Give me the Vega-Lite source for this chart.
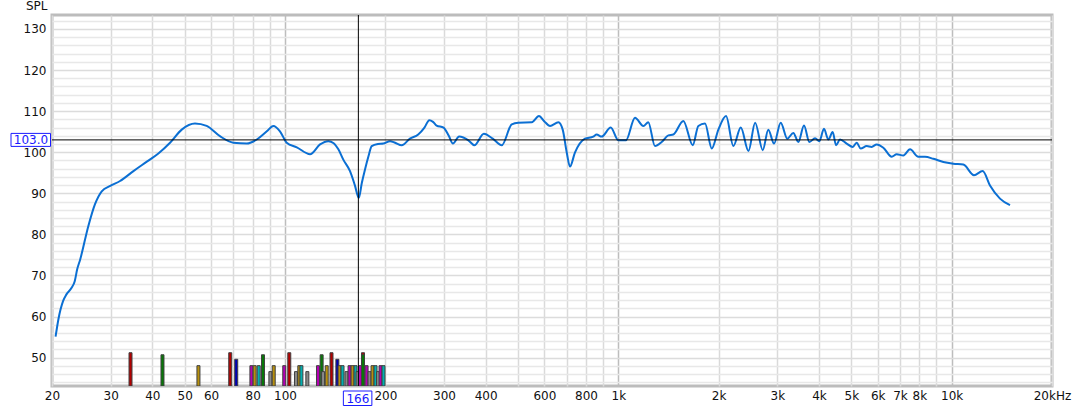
{
  "$schema": "https://vega.github.io/schema/vega-lite/v6.json",
  "width": 1000,
  "height": 371,
  "autosize": {"type": "none"},
  "padding": {"left": 52, "top": 15, "right": 26, "bottom": 24},
  "background": "white",
  "config": {
    "view": {"stroke": "#bcbcbc", "strokeWidth": 3},
    "font": "DejaVu Sans",
    "axis": {"labelFont": "DejaVu Sans", "labelFontSize": 12, "labelColor": "#111111", "domain": false, "ticks": false, "labelOverlap": false}
  },
  "resolve": {"axis": {"x": "independent", "y": "independent"}},
  "datasets": {
    "curve": [
      {"f": 20.5, "spl": 55.1}, {"f": 20.9, "spl": 59.3}, {"f": 21.6, "spl": 63.8}, {"f": 22.1, "spl": 65.4},
      {"f": 22.9, "spl": 67.0}, {"f": 23.4, "spl": 68.6}, {"f": 23.8, "spl": 71.5}, {"f": 24.3, "spl": 73.9},
      {"f": 25.7, "spl": 82.0}, {"f": 26.9, "spl": 87.3}, {"f": 28.2, "spl": 90.5}, {"f": 29.9, "spl": 91.8},
      {"f": 32.0, "spl": 93.0}, {"f": 35.1, "spl": 95.4}, {"f": 38.5, "spl": 97.7}, {"f": 41.7, "spl": 99.7},
      {"f": 45.2, "spl": 102.3}, {"f": 49.0, "spl": 105.5}, {"f": 53.7, "spl": 107.0}, {"f": 58.2, "spl": 106.4},
      {"f": 63.8, "spl": 103.9}, {"f": 70.0, "spl": 102.3}, {"f": 76.8, "spl": 102.1}, {"f": 82.3, "spl": 103.1},
      {"f": 88.2, "spl": 105.1}, {"f": 92.3, "spl": 106.4}, {"f": 96.6, "spl": 105.1}, {"f": 101.2, "spl": 102.3},
      {"f": 108.5, "spl": 101.2}, {"f": 118.9, "spl": 99.5}, {"f": 127.4, "spl": 101.9}, {"f": 134.9, "spl": 102.7},
      {"f": 140.0, "spl": 102.2}, {"f": 144.6, "spl": 100.7}, {"f": 149.6, "spl": 98.2}, {"f": 156.7, "spl": 95.4},
      {"f": 162.0, "spl": 92.0}, {"f": 166.5, "spl": 88.9}, {"f": 170.0, "spl": 92.5}, {"f": 173.8, "spl": 95.8},
      {"f": 178.0, "spl": 99.0}, {"f": 182.0, "spl": 101.5}, {"f": 190.0, "spl": 102.0}, {"f": 197.2, "spl": 102.1},
      {"f": 206.6, "spl": 102.7}, {"f": 214.0, "spl": 102.3}, {"f": 224.0, "spl": 101.7}, {"f": 237.0, "spl": 103.3},
      {"f": 251.0, "spl": 104.3}, {"f": 262.0, "spl": 106.0}, {"f": 271.0, "spl": 107.8}, {"f": 278.0, "spl": 107.4},
      {"f": 285.0, "spl": 106.5}, {"f": 299.0, "spl": 106.0}, {"f": 310.0, "spl": 104.0}, {"f": 319.0, "spl": 102.1},
      {"f": 333.0, "spl": 103.8}, {"f": 355.0, "spl": 102.9}, {"f": 370.0, "spl": 101.7}, {"f": 395.0, "spl": 104.5},
      {"f": 420.0, "spl": 103.3}, {"f": 447.0, "spl": 101.7}, {"f": 479.0, "spl": 106.8}, {"f": 501.0, "spl": 107.2},
      {"f": 550.0, "spl": 107.3}, {"f": 578.0, "spl": 108.8}, {"f": 600.0, "spl": 107.5}, {"f": 624.0, "spl": 106.4},
      {"f": 661.0, "spl": 107.3}, {"f": 681.0, "spl": 105.5}, {"f": 700.0, "spl": 100.0}, {"f": 716.0, "spl": 96.5},
      {"f": 741.0, "spl": 99.9}, {"f": 794.0, "spl": 103.3}, {"f": 841.0, "spl": 103.8}, {"f": 861.0, "spl": 104.3},
      {"f": 891.0, "spl": 103.8}, {"f": 949.0, "spl": 106.0}, {"f": 1000.0, "spl": 102.9}, {"f": 1054.0, "spl": 102.9},
      {"f": 1122.0, "spl": 108.4}, {"f": 1189.0, "spl": 106.4}, {"f": 1230.0, "spl": 107.3}, {"f": 1288.0, "spl": 101.5},
      {"f": 1349.0, "spl": 102.5}, {"f": 1413.0, "spl": 104.1}, {"f": 1462.0, "spl": 104.3}, {"f": 1567.0, "spl": 107.6},
      {"f": 1672.0, "spl": 101.7}, {"f": 1738.0, "spl": 106.4}, {"f": 1820.0, "spl": 107.0}, {"f": 1907.0, "spl": 100.9},
      {"f": 1996.0, "spl": 105.5}, {"f": 2105.0, "spl": 108.8}, {"f": 2214.0, "spl": 101.5}, {"f": 2330.0, "spl": 106.0},
      {"f": 2457.0, "spl": 100.3}, {"f": 2573.0, "spl": 107.2}, {"f": 2712.0, "spl": 100.5}, {"f": 2818.0, "spl": 105.5},
      {"f": 2932.0, "spl": 102.1}, {"f": 3070.0, "spl": 107.2}, {"f": 3214.0, "spl": 103.3}, {"f": 3350.0, "spl": 104.7},
      {"f": 3468.0, "spl": 102.5}, {"f": 3606.0, "spl": 106.5}, {"f": 3742.0, "spl": 102.5}, {"f": 3892.0, "spl": 103.4},
      {"f": 4010.0, "spl": 102.7}, {"f": 4140.0, "spl": 105.7}, {"f": 4266.0, "spl": 103.1}, {"f": 4396.0, "spl": 104.9},
      {"f": 4500.0, "spl": 101.7}, {"f": 4624.0, "spl": 103.1}, {"f": 4842.0, "spl": 102.1}, {"f": 5050.0, "spl": 101.3},
      {"f": 5188.0, "spl": 102.3}, {"f": 5334.0, "spl": 100.9}, {"f": 5560.0, "spl": 101.5}, {"f": 5754.0, "spl": 101.3},
      {"f": 5956.0, "spl": 101.9}, {"f": 6238.0, "spl": 101.1}, {"f": 6608.0, "spl": 98.9}, {"f": 6840.0, "spl": 99.5},
      {"f": 7162.0, "spl": 99.2}, {"f": 7500.0, "spl": 100.7}, {"f": 7944.0, "spl": 98.9}, {"f": 8318.0, "spl": 98.9},
      {"f": 8812.0, "spl": 98.4}, {"f": 9442.0, "spl": 97.6}, {"f": 10116.0, "spl": 97.2}, {"f": 10840.0, "spl": 97.0},
      {"f": 11668.0, "spl": 94.4}, {"f": 12388.0, "spl": 95.4}, {"f": 13032.0, "spl": 91.9}, {"f": 13964.0, "spl": 88.7},
      {"f": 14964.0, "spl": 87.1}
    ],
    "bars": [
      {"f": 34.4, "level": 51.2, "kind": "R"}, {"f": 42.9, "level": 50.7, "kind": "G"}, {"f": 55.0, "level": 48.05, "kind": "Y"},
      {"f": 68.5, "level": 51.2, "kind": "R"}, {"f": 71.4, "level": 49.6, "kind": "B"}, {"f": 79.3, "level": 48.05, "kind": "M"},
      {"f": 81.1, "level": 48.05, "kind": "Y"}, {"f": 83.4, "level": 48.05, "kind": "C"}, {"f": 85.9, "level": 50.7, "kind": "G"},
      {"f": 90.4, "level": 46.6, "kind": "K"}, {"f": 92.5, "level": 48.05, "kind": "Y"}, {"f": 99.5, "level": 48.05, "kind": "M"},
      {"f": 103.0, "level": 51.2, "kind": "R"}, {"f": 107.9, "level": 46.6, "kind": "K"}, {"f": 110.4, "level": 48.05, "kind": "Y"},
      {"f": 112.0, "level": 48.05, "kind": "C"}, {"f": 116.7, "level": 46.6, "kind": "K"}, {"f": 125.6, "level": 48.05, "kind": "M"},
      {"f": 128.8, "level": 50.7, "kind": "G"}, {"f": 130.1, "level": 46.6, "kind": "K"}, {"f": 133.4, "level": 48.05, "kind": "Y"},
      {"f": 137.9, "level": 51.2, "kind": "R"}, {"f": 143.6, "level": 49.6, "kind": "B"}, {"f": 145.8, "level": 48.05, "kind": "Y"},
      {"f": 148.8, "level": 48.05, "kind": "C"}, {"f": 153.0, "level": 46.6, "kind": "K"}, {"f": 156.2, "level": 48.05, "kind": "M"},
      {"f": 159.5, "level": 48.05, "kind": "Y"}, {"f": 162.8, "level": 48.05, "kind": "C"}, {"f": 165.1, "level": 46.6, "kind": "K"},
      {"f": 167.9, "level": 48.05, "kind": "M"}, {"f": 171.4, "level": 51.2, "kind": "R"}, {"f": 171.4, "level": 50.7, "kind": "G"},
      {"f": 175.7, "level": 48.05, "kind": "M"}, {"f": 179.3, "level": 46.6, "kind": "K"}, {"f": 183.1, "level": 48.05, "kind": "Y"},
      {"f": 186.9, "level": 48.05, "kind": "C"}, {"f": 190.2, "level": 46.6, "kind": "K"}, {"f": 193.5, "level": 48.05, "kind": "M"},
      {"f": 197.5, "level": 48.05, "kind": "C"}
    ]
  },
  "layer": [
    {
      "data": {"name": "bars"},
      "mark": {"type": "bar", "width": 3, "stroke": "#404040", "strokeWidth": 1, "clip": true},
      "encoding": {
        "x": {"field": "f", "type": "quantitative", "scale": {"type": "log", "domain": [20, 20000], "nice": false, "padding": 0}, "axis": null},
        "y": {
          "field": "level", "type": "quantitative",
          "scale": {"domain": [43.1, 133.4], "nice": false, "zero": false, "padding": 0},
          "axis": {
            "orient": "left",
            "title": null,
            "labels": false,
            "values": [44, 46, 48, 52, 54, 56, 58, 62, 64, 66, 68, 72, 74, 76, 78, 82, 84, 86, 88, 92, 94, 96, 98, 102, 104, 106, 108, 112, 114, 116, 118, 122, 124, 126, 128, 132],
            "grid": true,
            "gridColor": "#e8e8e8",
            "gridWidth": 1.5,
            "zindex": 0
          }
        },
        "y2": {"datum": 43.1},
        "color": {
          "field": "kind", "type": "nominal", "legend": null,
          "scale": {"domain": ["R", "G", "Y", "B", "M", "C", "K"], "range": ["#b40000", "#087808", "#b8900c", "#0000b4", "#b400b4", "#00b0b0", "#8a8a8a"]}
        }
      }
    },
    {
      "data": {"name": "curve"},
      "mark": {"type": "line", "color": "#0b6fd3", "strokeWidth": 2, "interpolate": "monotone", "clip": true},
      "encoding": {
        "x": {
          "field": "f", "type": "quantitative",
          "scale": {"type": "log", "domain": [20, 20000], "nice": false, "padding": 0},
          "axis": {
            "orient": "bottom",
            "title": null,
            "values": [20, 30, 40, 50, 60, 70, 80, 90, 100, 200, 300, 400, 500, 600, 700, 800, 900, 1000, 2000, 3000, 4000, 5000, 6000, 7000, 8000, 9000, 10000, 20000],
            "labelExpr": "indexof([70, 90, 500, 700, 900, 9000], datum.value) >= 0 ? '' : (datum.value == 20000 ? '20kHz' : (datum.value >= 1000 ? (datum.value / 1000) + 'k' : '' + datum.value))",
            "grid": true,
            "gridColor": {"condition": {"test": "datum.value == 100 || datum.value == 1000 || datum.value == 10000", "value": "#bdbdbd"}, "value": "#dadada"},
            "gridWidth": 1.5,
            "labelPadding": 4,
            "labelFlush": false,
            "labelOverlap": false,
            "zindex": 0
          }
        },
        "y": {
          "field": "spl", "type": "quantitative",
          "scale": {"domain": [43.1, 133.4], "nice": false, "zero": false, "padding": 0},
          "axis": {
            "orient": "left",
            "title": "SPL",
            "titleAngle": 0,
            "titleAlign": "right",
            "titleBaseline": "bottom",
            "titleX": -5,
            "titleY": -3,
            "titleFontWeight": "normal",
            "titleFontSize": 12,
            "titleFont": "DejaVu Sans",
            "titleColor": "#111111",
            "values": [50, 60, 70, 80, 90, 100, 110, 120, 130],
            "grid": true,
            "gridColor": "#dcdcdc",
            "gridWidth": 1.5,
            "labelPadding": 6,
            "labelOverlap": false,
            "zindex": 0
          }
        }
      }
    },
    {
      "data": {"values": [{}]},
      "mark": {"type": "rule", "color": "#000000", "strokeWidth": 1},
      "encoding": {
        "x": {"datum": 166, "type": "quantitative", "axis": null}
      }
    },
    {
      "data": {"values": [{}]},
      "mark": {"type": "rule", "color": "#000000", "strokeWidth": 1},
      "encoding": {
        "y": {"datum": 103, "type": "quantitative", "axis": null}
      }
    },
    {
      "data": {"values": [{}]},
      "mark": {"type": "rect", "fill": "white", "stroke": "#1a1aff", "strokeWidth": 1, "xOffset": -41, "x2Offset": -1.5, "yOffset": -6.5, "y2Offset": 6.5},
      "encoding": {
        "x": {"datum": 20, "type": "quantitative", "axis": null},
        "x2": {"datum": 20},
        "y": {"datum": 103, "type": "quantitative", "axis": null},
        "y2": {"datum": 103}
      }
    },
    {
      "data": {"values": [{}]},
      "mark": {"type": "text", "text": "103.0", "color": "#1a1aff", "font": "DejaVu Sans", "fontSize": 12, "align": "center", "baseline": "middle", "dx": -21, "dy": 0.5},
      "encoding": {
        "x": {"datum": 20, "type": "quantitative", "axis": null},
        "y": {"datum": 103, "type": "quantitative", "axis": null}
      }
    },
    {
      "data": {"values": [{}]},
      "mark": {"type": "rect", "fill": "white", "stroke": "#1a1aff", "strokeWidth": 1, "xOffset": -15, "x2Offset": 13.5, "yOffset": 5, "y2Offset": 19.5},
      "encoding": {
        "x": {"datum": 166, "type": "quantitative", "axis": null},
        "x2": {"datum": 166},
        "y": {"datum": 43.1, "type": "quantitative", "axis": null},
        "y2": {"datum": 43.1}
      }
    },
    {
      "data": {"values": [{}]},
      "mark": {"type": "text", "text": "166", "color": "#1a1aff", "font": "DejaVu Sans", "fontSize": 12, "align": "center", "baseline": "middle", "dx": -0.5, "dy": 12.5},
      "encoding": {
        "x": {"datum": 166, "type": "quantitative", "axis": null},
        "y": {"datum": 43.1, "type": "quantitative", "axis": null}
      }
    }
  ]
}
